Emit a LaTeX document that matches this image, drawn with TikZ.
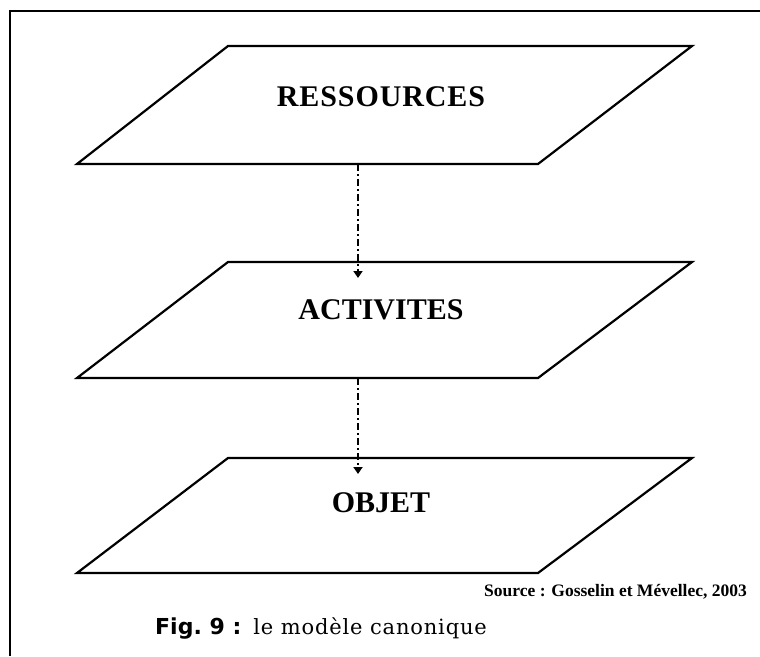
\documentclass[tikz,border=0pt]{standalone}
\usepackage{fontspec}
\setmainfont{Liberation Serif}
\newfontfamily\capsans{DejaVu Sans}
\newfontfamily\capserif[LetterSpace=4]{DejaVu Serif}
\newfontfamily\srcfont{Liberation Serif}
\usetikzlibrary{arrows.meta}
\begin{document}
\begin{tikzpicture}[x=1pt,y=-1pt,
  plane/.style={draw=black,line width=2.2pt,line join=miter,fill=white},
  planelabel/.style={font=\fontsize{30}{33}\selectfont\bfseries,inner sep=0pt},
  flow/.style={line width=1.8pt,dash pattern=on 7pt off 3pt on 2pt off 3pt,
    -{Triangle[width=9pt,length=7pt]}},
  frameline/.style={line width=1.6pt}]
\useasboundingbox (0,0) rectangle (760,656);
\fill[white] (0,0) rectangle (760,656);

% outer frame, open to the right and bottom
\draw[frameline] (760,11) -- (10,11) -- (10,656);

% three planes
\draw[plane] (228,46) -- (692,46) -- (538,164) -- (77,164) -- cycle;
\draw[plane] (228,262) -- (692,262) -- (538,378) -- (77,378) -- cycle;
\draw[plane] (228,458) -- (692,458) -- (538,573) -- (77,573) -- cycle;

\node[planelabel] (res) at (381,97) {\addfontfeature{LetterSpace=3}RESSOURCES};
\node[planelabel] (act) at (381,310) {ACTIVITES};
\node[planelabel] (obj) at (381,503) {OBJET};

% links between planes
\coordinate (resb) at (358,164);
\coordinate (actt) at (358,278);
\coordinate (actb) at (358,378);
\coordinate (objt) at (358,474);
\draw[flow] (resb) -- (actt);
\draw[flow] (actb) -- (objt);

% source and caption
\node[anchor=east,inner sep=0pt,font=\srcfont\fontsize{17.5}{19}\selectfont\bfseries] (src) at (747,592)
  {Source : Gosselin et Mévellec, 2003};
\node[anchor=west,inner sep=0pt] (cap) at (155,628)
  {{\capsans\bfseries\fontsize{22}{25}\selectfont Fig.~9 :}\hspace{12pt}{\capserif\fontsize{21}{24}\selectfont le modèle canonique}};
\end{tikzpicture}
\end{document}
